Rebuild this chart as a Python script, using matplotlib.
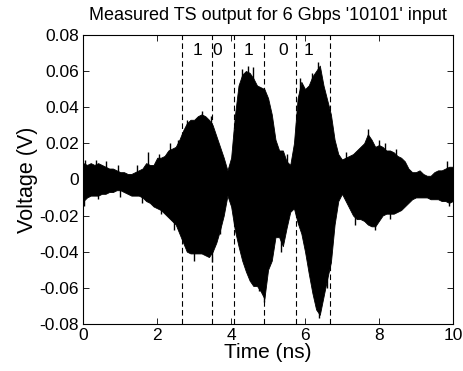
import numpy as np
import matplotlib
matplotlib.use("Agg")
import matplotlib.pyplot as plt

plt.rcParams['font.family'] = ['Liberation Sans', 'DejaVu Sans']
plt.rcParams['axes.unicode_minus'] = False

# time grid (ns) at 0.1 ns steps
time_ns = [round(0.1 * i, 1) for i in range(101)]

# upper envelope of the measured waveform (V)
upper_v = [0.009, 0.008, 0.009, 0.008, 0.009, 0.008, 0.007, 0.006, 0.006, 0.005,
           0.004, 0.004, 0.003, 0.003, 0.004, 0.005, 0.006, 0.009, 0.008, 0.008,
           0.012, 0.012, 0.013, 0.016, 0.017, 0.018, 0.022, 0.027, 0.031, 0.033,
           0.033, 0.035, 0.036, 0.035, 0.033, 0.030, 0.024, 0.018, 0.012, 0.005,
           0.012, 0.035, 0.052, 0.058, 0.060, 0.059, 0.056, 0.052, 0.051, 0.050,
           0.045, 0.036, 0.022, 0.016, 0.016, 0.010, 0.008, 0.020, 0.045, 0.054,
           0.050, 0.052, 0.057, 0.060, 0.063, 0.052, 0.044, 0.036, 0.022, 0.014,
           0.011, 0.012, 0.013, 0.014, 0.016, 0.018, 0.020, 0.025, 0.022, 0.018,
           0.019, 0.018, 0.016, 0.016, 0.015, 0.013, 0.012, 0.010, 0.006, 0.004,
           0.004, 0.005, 0.003, 0.002, 0.002, 0.004, 0.005, 0.005, 0.006, 0.007,
           0.007]

# lower envelope of the measured waveform (V)
lower_v = [-0.012, -0.010, -0.009, -0.009, -0.009, -0.008, -0.008, -0.007, -0.007, -0.006,
           -0.006, -0.007, -0.008, -0.009, -0.009, -0.009, -0.010, -0.012, -0.013, -0.015,
           -0.016, -0.017, -0.019, -0.021, -0.023, -0.025, -0.030, -0.035, -0.040, -0.041,
           -0.041, -0.041, -0.041, -0.042, -0.043, -0.040, -0.035, -0.028, -0.020, -0.009,
           -0.015, -0.028, -0.037, -0.045, -0.051, -0.056, -0.059, -0.059, -0.062, -0.066,
           -0.050, -0.045, -0.032, -0.032, -0.037, -0.027, -0.018, -0.016, -0.024, -0.030,
           -0.040, -0.052, -0.063, -0.072, -0.075, -0.065, -0.055, -0.046, -0.025, -0.012,
           -0.008, -0.012, -0.016, -0.020, -0.022, -0.022, -0.023, -0.025, -0.026, -0.026,
           -0.023, -0.020, -0.019, -0.019, -0.019, -0.018, -0.017, -0.015, -0.013, -0.011,
           -0.010, -0.010, -0.010, -0.010, -0.011, -0.011, -0.011, -0.012, -0.012, -0.013,
           -0.012]

# individual visible spikes beyond the envelope (time ns, peak V)
spike_t = [0.05, 0.35, 0.6, 0.95, 1.45, 1.75, 2.05, 2.35, 2.55, 2.8, 3.2, 3.45,
           4.3, 4.46, 4.6, 5.5, 5.87, 6.2, 6.36, 7.1, 7.7, 8.0, 8.16, 8.45, 9.85,
           0.02, 0.4, 1.0, 1.6, 2.1, 2.45, 3.0, 3.48, 3.7, 4.75, 4.9, 5.35,
           6.38, 6.6, 7.35, 7.9, 8.3, 9.9]
spike_v = [0.011, 0.011, 0.010, 0.008, 0.008, 0.015, 0.014, 0.020, 0.022, 0.033, 0.038, 0.035,
           0.061, 0.063, 0.062, 0.014, 0.056, 0.059, 0.065, 0.015, 0.028, 0.022, 0.020, 0.017, 0.010,
           -0.015, -0.011, -0.010, -0.013, -0.019, -0.028, -0.045, -0.046, -0.030, -0.062, -0.068, -0.040,
           -0.077, -0.060, -0.025, -0.028, -0.022, -0.015]

# bit boundaries (ns) and bit labels
bit_edges_ns = [2.68, 3.48, 4.09, 4.90, 5.75, 6.68]
bit_labels = ['1', '0', '1', '0', '1']
bit_label_x = [3.08, 3.62, 4.48, 5.41, 6.09]
bit_label_y = 0.0715

x_ticks = [0, 2, 4, 6, 8, 10]
y_ticks = [-0.08, -0.06, -0.04, -0.02, 0, 0.02, 0.04, 0.06, 0.08]
y_tick_labels = ['-0.08', '-0.06', '-0.04', '-0.02', '0', '0.02', '0.04', '0.06', '0.08']

fig = plt.figure(figsize=(4.63, 3.71), dpi=100)
ax = fig.add_axes([0.180, 0.127, 0.798, 0.779])

ax.fill_between(time_ns, lower_v, upper_v, color='black', linewidth=0.6, edgecolor='black')
ax.vlines(spike_t, 0, spike_v, color='black', linewidth=1.0)

for xe in bit_edges_ns:
    ax.axvline(xe, color='black', linestyle=(0, (5, 3)), linewidth=0.8)
for lx, lb in zip(bit_label_x, bit_labels):
    ax.text(lx, bit_label_y, lb, ha='center', va='center', fontsize=12.5)

ax.set_xlim(0, 10)
ax.set_ylim(-0.08, 0.08)
ax.set_xticks(x_ticks)
ax.set_xticklabels([str(t) for t in x_ticks], fontsize=12.5)
ax.set_yticks(y_ticks)
ax.set_yticklabels(y_tick_labels, fontsize=12.5)
ax.tick_params(direction='in', top=True, right=True, length=4, width=0.6, pad=3)
for s in ax.spines.values():
    s.set_linewidth(0.8)

ax.set_xlabel('Time (ns)', fontsize=15, labelpad=0)
ax.set_ylabel('Voltage (V)', fontsize=15.5, labelpad=1)
ax.set_title("Measured TS output for 6 Gbps '10101' input", fontsize=13, pad=11)

fig.savefig('out.png', dpi=100)
